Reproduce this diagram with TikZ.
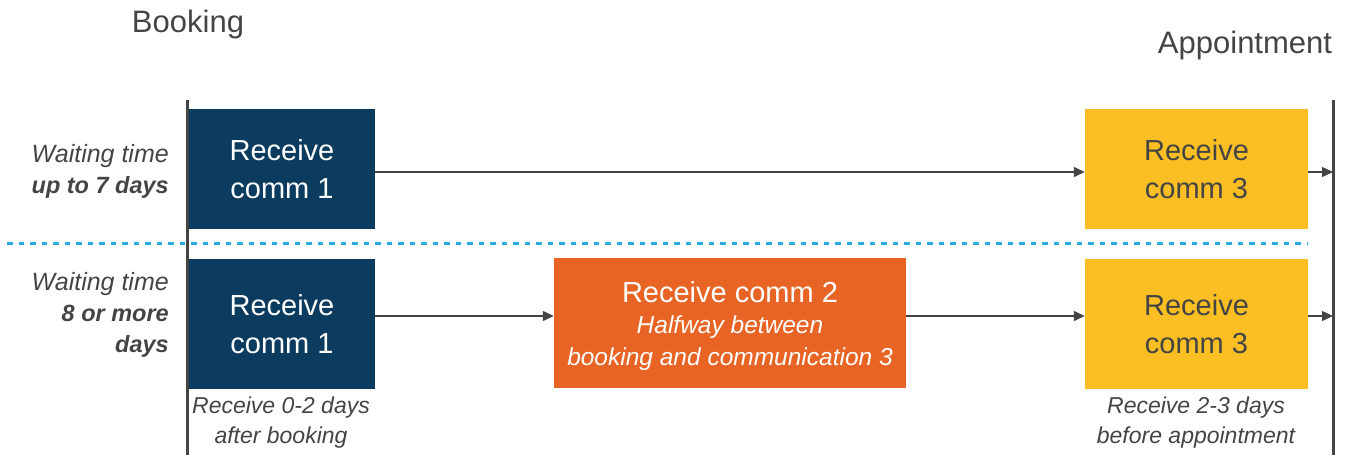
\documentclass[tikz,border=0pt]{standalone}
\usepackage{fontspec}
\setmainfont{Liberation Sans}
\usetikzlibrary{arrows.meta}
\definecolor{navy}{HTML}{0B3C5F}
\definecolor{flame}{HTML}{E86424}
\definecolor{amber}{HTML}{FBBF24}
\definecolor{ink}{HTML}{444444}
\definecolor{sky}{HTML}{29ABE2}
\newcommand{\emphdays}{\fontsize{23.5}{31}\selectfont\bfseries}
\tikzset{
  commbox/.style={minimum width=#1, inner sep=0pt, align=center,
    font=\fontsize{29}{38}\selectfont},
  early/.style={commbox=186pt, fill=navy, text=white},
  late/.style={commbox=223pt, fill=amber, text=ink},
  mid/.style={commbox=352pt, fill=flame, text=white},
  heading/.style={text=ink, font=\fontsize{31}{36}\selectfont},
  sidenote/.style={text=ink, align=right, anchor=east, inner sep=0pt,
    font=\fontsize{25}{31}\selectfont\itshape},
  footnote/.style={text=ink, align=center,
    font=\fontsize{23}{30}\selectfont\itshape},
  flow/.style={draw=ink, line width=1.3pt, -{Triangle[length=11pt,width=10pt]}},
  axis/.style={draw=ink, line width=3pt},
}
\begin{document}
\begin{tikzpicture}[x=1pt,y=-1pt]
\useasboundingbox (0,0) rectangle (1352,456);

% timeline bounds
\coordinate (bookTop) at (187,100);
\coordinate (bookBot) at (187,455);
\coordinate (apptTop) at (1333,100);
\coordinate (apptBot) at (1333,455);
\draw[axis] (bookTop) -- (bookBot);
\draw[axis] (apptTop) -- (apptBot);

\node[heading] (booking) at (188,24) {Booking};
\node[heading] (appt) at (1245,45) {Appointment};

% separator between the two scenarios
\coordinate (sepL) at (7,243);
\coordinate (sepR) at (1308,243);
\draw[sky, line width=3pt, dash pattern=on 5.5pt off 6pt] (sepL) -- (sepR);

% scenario 1: up to 7 days
\node[early, minimum height=120pt] (a1) at (282,169) {Receive\\comm 1};
\node[late, minimum height=120pt] (a3) at (1196.5,169) {Receive\\comm 3};
\coordinate (a3end) at (1333,172);
\draw[flow] (a1.east |- 0,172) -- (a3.west |- 0,172);
\draw[flow] (a3.east |- 0,172) -- (a3end);

\node[sidenote] (w1) at (169,171) {Waiting time\\\emphdays up to 7 days};

% scenario 2: 8 or more days
\node[early, minimum height=130pt] (b1) at (282,324) {Receive\\comm 1};
\node[mid, minimum height=130pt, text depth=0pt] (b2) at (730,323) {\raisebox{-3pt}{Receive comm 2}\\[-4pt]
  {\fontsize{24.5}{30}\selectfont\itshape Halfway between}\\[-6pt]
  {\fontsize{24.5}{30}\selectfont\itshape booking and communication 3}};
\node[late, minimum height=130pt] (b3) at (1196.5,324) {Receive\\comm 3};
\coordinate (b3end) at (1333,316);
\draw[flow] (b1.east |- 0,316) -- (b2.west |- 0,316);
\draw[flow] (b2.east |- 0,316) -- (b3.west |- 0,316);
\draw[flow] (b3.east |- 0,316) -- (b3end);

\node[sidenote] (w2) at (169,315) {Waiting time\\\emphdays 8 or more\\\emphdays days};

\node[footnote] (n1) at (281,423) {Receive 0-2 days\\after booking};
\node[footnote] (n3) at (1196,423) {Receive 2-3 days\\before appointment};
\end{tikzpicture}
\end{document}
